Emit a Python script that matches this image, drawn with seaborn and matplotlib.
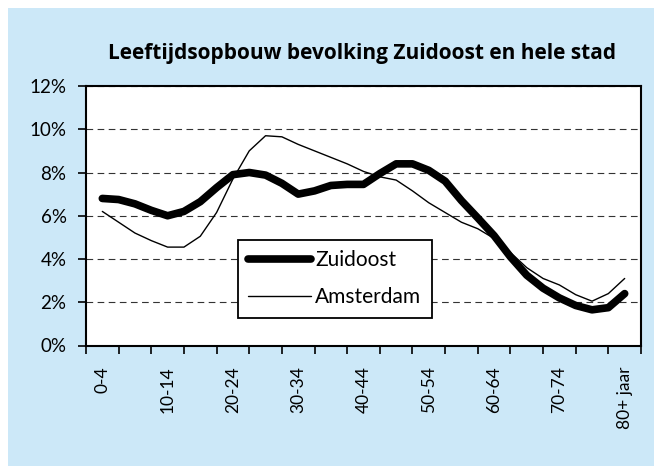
import numpy as np
import seaborn as sns
import pandas as pd
import matplotlib.pyplot as plt
from matplotlib.patches import Rectangle
from matplotlib.ticker import FixedLocator, PercentFormatter

# age groups on the category axis
categories = ["0-4", "5-9", "10-14", "15-19", "20-24", "25-29", "30-34", "35-39",
              "40-44", "45-49", "50-54", "55-59", "60-64", "65-69", "70-74",
              "75-79", "80+ jaar"]

# curve read every half age group (position 0 = 0-4, 16 = 80+ jaar)
positions = [i * 0.5 for i in range(33)]
zuidoost = [6.8, 6.75, 6.55, 6.25, 6.0, 6.2, 6.65, 7.3, 7.9, 8.0, 7.88,
            7.5, 7.0, 7.15, 7.4, 7.45, 7.45, 7.95, 8.4, 8.4, 8.1, 7.6,
            6.7, 5.9, 5.08, 4.1, 3.25, 2.65, 2.2, 1.85, 1.65, 1.75, 2.4]
amsterdam = [6.2, 5.7, 5.2, 4.85, 4.55, 4.55, 5.05, 6.15, 7.7, 9.0, 9.7,
             9.65, 9.3, 9.0, 8.7, 8.4, 8.05, 7.8, 7.65, 7.15, 6.6, 6.15,
             5.7, 5.4, 4.95, 4.3, 3.6, 3.1, 2.8, 2.35, 2.05, 2.4, 3.1]

df = pd.DataFrame({"pos": positions * 2,
                   "aandeel": zuidoost + amsterdam,
                   "gebied": ["Zuidoost"] * 33 + ["Amsterdam"] * 33})

sns.set_style("white", {"text.color": "black", "xtick.color": "black",
                        "ytick.color": "black", "axes.labelcolor": "black"})
plt.rcParams["font.family"] = ["Lato", "DejaVu Sans"]

fig = plt.figure(figsize=(6.54, 4.66), dpi=100, facecolor="white")
fig.patches.append(Rectangle((8 / 654, 0), 1, 1 - 8 / 466, transform=fig.transFigure,
                             facecolor="#cce8f8", edgecolor="none", zorder=-10))
# plot area in pixels: x 86..641, y 86..345.5
ax = fig.add_axes([86 / 654, 1 - 345.5 / 466, (641 - 86) / 654, (345.5 - 86) / 466])
ax.set_facecolor("white")

sns.lineplot(data=df, x="pos", y="aandeel", hue="gebied", size="gebied",
             sizes={"Zuidoost": 5.5, "Amsterdam": 1.0},
             palette={"Zuidoost": "black", "Amsterdam": "black"}, ax=ax,
             solid_capstyle="round", solid_joinstyle="round")

ax.set_xlim(-0.5, len(categories) - 0.5)
ax.set_ylim(0, 12)
ax.yaxis.set_major_locator(FixedLocator(range(0, 13, 2)))
ax.yaxis.set_major_formatter(PercentFormatter(decimals=0))
ax.grid(axis="y", color="#333333", linestyle=(0, (6, 4)), linewidth=0.8)
ax.set_axisbelow(True)

# labels on every second group, ticks on group boundaries
ax.set_xticks(range(0, len(categories), 2))
ax.set_xticklabels(categories[::2], rotation=90)
ax.set_xticks(np.arange(-0.5, len(categories)), minor=True)
ax.tick_params(axis="x", which="major", length=0, pad=15, labelsize=12.5)
ax.tick_params(axis="x", which="minor", length=6, width=1.2, direction="out", color="black")
ax.tick_params(axis="y", length=6, width=1.2, direction="out", color="black", labelsize=13.5, pad=8)
ax.tick_params(bottom=True, left=True, which="both", labelcolor="black")

for s in ax.spines.values():
    s.set_color("black")
    s.set_linewidth(1.5)

ax.set_xlabel("")
ax.set_ylabel("")
fig.text(362 / 654, 1 - 53 / 466, "Leeftijdsopbouw bevolking Zuidoost en hele stad",
         ha="center", va="center", fontsize=15, fontweight="bold", family="Open Sans",
         color="black")

leg = ax.legend(loc="upper left", bbox_to_anchor=((238 - 86) / 555, (345.5 - 240) / 259.5),
                frameon=True, fancybox=False, edgecolor="black", framealpha=1, fontsize=15,
                handlelength=3.0, borderpad=0.5, labelspacing=0.8, handletextpad=0.2,
                borderaxespad=0, labelcolor="black")
leg.get_frame().set_linewidth(1.3)
for h in leg.get_lines():
    h.set_solid_capstyle("round")

fig.savefig("out.png", dpi=100, facecolor=fig.get_facecolor())
